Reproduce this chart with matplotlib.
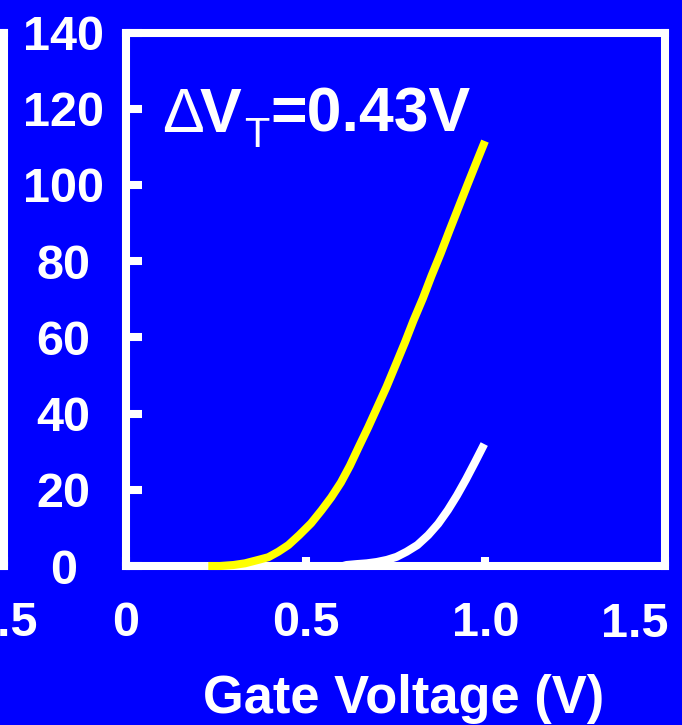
import matplotlib
matplotlib.use("Agg")
import matplotlib.pyplot as plt

plt.rcParams['font.family'] = ['Liberation Sans', 'DejaVu Sans']
plt.rcParams['font.weight'] = 'bold'

# Data
gate_yellow = [0.229, 0.262, 0.299, 0.331, 0.368, 0.396, 0.424, 0.452, 0.482, 0.515,
               0.544, 0.571, 0.598, 0.623, 0.648, 0.674, 0.699, 0.725, 0.751, 0.776,
               0.800, 0.826, 0.850, 0.876, 0.900, 0.925, 0.950, 0.975, 0.999]
cur_yellow = [0.0, 0.0, 0.26, 0.7, 1.6, 2.3, 3.75, 5.5, 8.1, 11.2,
              14.6, 18.0, 21.9, 26.3, 31.3, 36.4, 41.6, 47.0, 52.9, 58.6,
              64.4, 70.2, 76.1, 82.1, 88.0, 94.0, 100.0, 105.9, 111.5]
gate_white = [0.604, 0.614, 0.642, 0.670, 0.698, 0.726, 0.753, 0.781, 0.811, 0.841,
              0.869, 0.896, 0.921, 0.946, 0.971, 0.997]
cur_white = [0.0, 0.26, 0.5, 0.7, 1.05, 1.6, 2.4, 3.75, 5.5, 8.1,
             11.1, 14.7, 18.5, 22.7, 27.2, 32.0]

x_ticks = [0, 0.5, 1.0, 1.5]
x_ticklabels = ['0', '0.5', '1.0', '1.5']
y_ticks = [0, 20, 40, 60, 80, 100, 120, 140]
y_ticklabels = ['0', '20', '40', '60', '80', '100', '120', '140']

BLUE = '#0000FF'
W, H = 682, 725
fig = plt.figure(figsize=(W / 100, H / 100), dpi=100, facecolor=BLUE)

ax_l = 126 / W
ax_b = (H - 566) / H
ax_w = 539 / W
ax_h = 533.5 / H


def style(ax):
    ax.set_facecolor(BLUE)
    ax.set_xlim(0, 1.5)
    ax.set_ylim(0, 140)
    for s in ax.spines.values():
        s.set_color('white')
        s.set_linewidth(5.8)
    ax.set_xticks(x_ticks)
    ax.set_yticks(y_ticks)
    ax.tick_params(axis='x', direction='in', length=6.5, width=5.8, color='white',
                   labelcolor='white', labelsize=35, pad=25, top=False, bottom=True)
    ax.tick_params(axis='y', direction='in', length=11.5, width=5.8, color='white',
                   labelcolor='white', labelsize=35, pad=45, left=True, right=False)


# partial neighbouring panel on the left
axL = fig.add_axes([(4 - 539) / W, ax_b, ax_w, ax_h])
style(axL)
axL.set_xticklabels(x_ticklabels)
axL.set_yticklabels([])

ax = fig.add_axes([ax_l, ax_b, ax_w, ax_h])
style(ax)
ax.set_xticklabels(['0', '0.5', '1.0', ''])
ax.set_yticklabels(y_ticklabels)
for lab in ax.get_yticklabels():
    lab.set_horizontalalignment('center')

ax.annotate('1.5', xy=(1.5, 0), xycoords=('data', 'axes fraction'),
            xytext=(-30, -36), textcoords='offset pixels',
            ha='center', va='top', color='white', fontsize=35, fontweight='bold',
            annotation_clip=False)

ax.plot(gate_yellow, cur_yellow, color='#FFFF00', lw=5.8, solid_capstyle='butt',
        solid_joinstyle='round', zorder=3, clip_on=False)
ax.plot(gate_white, cur_white, color='white', lw=5.8, solid_capstyle='butt',
        solid_joinstyle='round', zorder=3, clip_on=False)

ax.set_xlabel('Gate Voltage (V)', color='white', fontsize=37.8, fontweight='bold')
ax.xaxis.set_label_coords(0.516, -0.203)

# annotation  ΔV_T=0.43V
def ftxt(px, py, s, size, weight):
    fig.text(px / W, 1 - py / H, s, color='white', fontsize=size, fontweight=weight,
             ha='left', va='baseline')

ftxt(162, 132, '\u0394', 45, 'normal')
ftxt(200, 132, 'V', 45, 'bold')
ftxt(244, 147, 'T', 30, 'normal')
ftxt(270, 132, '=0.43V', 45, 'bold')

fig.savefig('out.png', dpi=100, facecolor=BLUE)
